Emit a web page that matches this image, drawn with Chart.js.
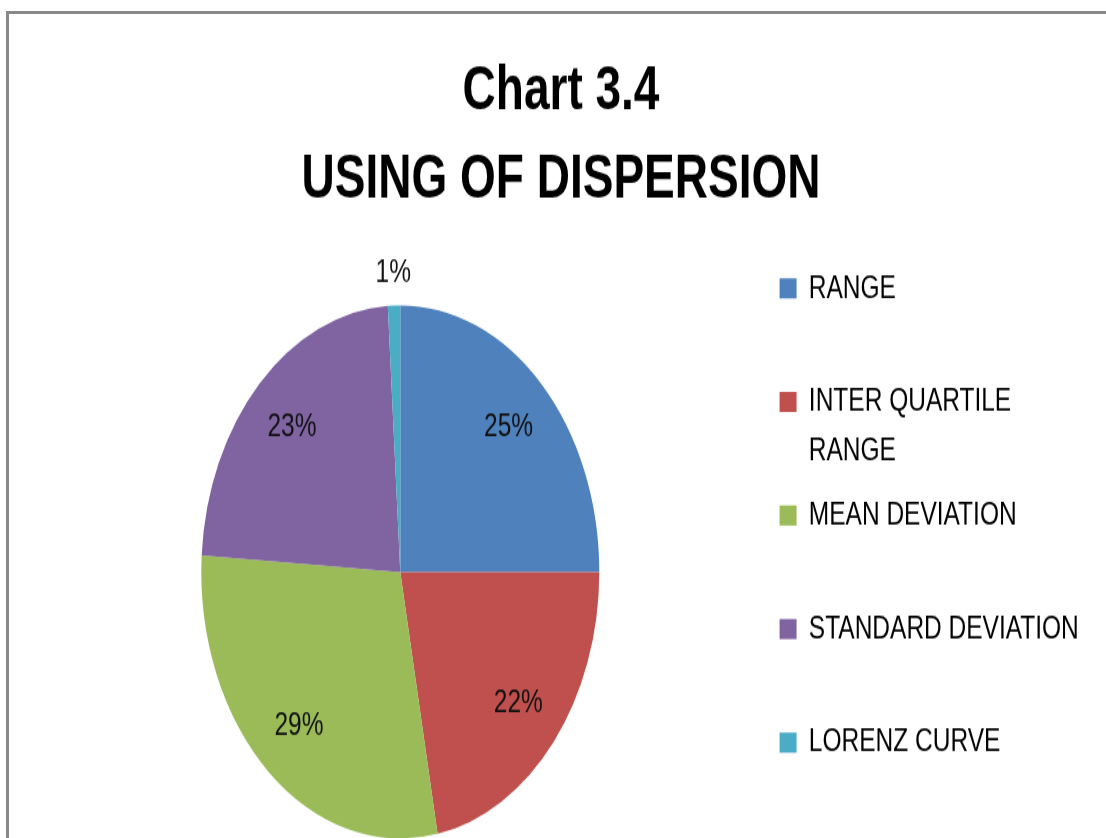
<!DOCTYPE html>
<html>
<head>
<meta charset="utf-8">
<script src="https://cdn.jsdelivr.net/npm/chart.js@4.4.1/dist/chart.umd.min.js"></script>
<style>
  html, body { margin: 0; padding: 0; background: #fff; width: 1106px; height: 838px; overflow: hidden; }
  #frame { position: absolute; left: 6px; top: 11px; width: 1120px; height: 900px;
           border-top: 3px solid #898989; border-left: 3px solid #898989; }
  #wrap { position: absolute; left: 9px; top: 14px; width: 1104px; height: 660px;
          transform: scaleY(1.34); transform-origin: 0 0; }
</style>
</head>
<body>
<div id="frame"></div>
<div id="wrap"><canvas id="pie3" width="1104" height="660"></canvas></div>
<script>
var titleLines = ["Chart 3.4", "USING OF DISPERSION"];
var categories = ["RANGE", "INTER QUARTILE RANGE", "MEAN DEVIATION", "STANDARD DEVIATION", "LORENZ CURVE"];
var shares = [25, 22, 29, 23, 1];
var colors = ["#4F81BD", "#C0504D", "#9BBB59", "#8064A2", "#4BACC6"];

var FONT = "'Liberation Sans', Arial, sans-serif";

// legend text wrapped like the original (long names go on two lines)
function legendLines(label) {
  if (label.length <= 18) return [label, ""];
  var cut = label.lastIndexOf(" ");
  return [label.slice(0, cut), label.slice(cut + 1)];
}

// percentage labels on the slices, small slice goes outside
var sliceLabels = {
  id: "sliceLabels",
  afterDatasetsDraw: function (chart) {
    var ctx = chart.ctx;
    var meta = chart.getDatasetMeta(0);
    var total = shares.reduce(function (a, b) { return a + b; }, 0);
    ctx.save();
    ctx.font = "24.5px " + FONT;
    ctx.fillStyle = "#111";
    ctx.textAlign = "center";
    ctx.textBaseline = "middle";
    meta.data.forEach(function (arc, i) {
      var p = arc.getProps(["x", "y", "startAngle", "endAngle", "outerRadius"], true);
      var mid = (p.startAngle + p.endAngle) / 2;
      var r = p.outerRadius * (shares[i] / total < 0.03 ? 1.124 : 0.77);
      ctx.fillText(Math.round(shares[i] / total * 100) + "%",
        p.x + Math.cos(mid) * r, p.y + Math.sin(mid) * r);
    });
    ctx.restore();
  }
};

var ctx = document.getElementById("pie3");
var baseLabels = (Chart.overrides.pie || Chart.overrides.doughnut).plugins.legend.labels.generateLabels;

new Chart(ctx, {
  type: "pie",
  data: {
    labels: categories,
    datasets: [{
      data: shares,
      backgroundColor: colors,
      borderWidth: 0,
      radius: 199
    }]
  },
  plugins: [sliceLabels],
  options: {
    responsive: false,
    devicePixelRatio: 1,
    animation: false,
    layout: { padding: { left: 24.2, right: 24.2, top: 0, bottom: 7.65 } },
    plugins: {
      title: {
        display: true,
        text: titleLines,
        color: "#000",
        font: { family: FONT, size: 46, weight: "bold", lineHeight: 1.43 },
        padding: { top: 25.7, bottom: 23.15 }
      },
      legend: {
        position: "right",
        align: "start",
        fullSize: false,
        maxWidth: 323,
        labels: {
          color: "#000",
          boxWidth: 17,
          boxHeight: 15,
          padding: 12.2,
          font: { family: FONT, size: 24.5, lineHeight: 1.48 },
          generateLabels: function (chart) {
            var items = baseLabels(chart);
            items.forEach(function (item) {
              item.text = legendLines(categories[item.index]);
              item.lineWidth = 0;
            });
            return items;
          }
        }
      },
      tooltip: { enabled: false }
    }
  }
});
</script>
</body>
</html>
